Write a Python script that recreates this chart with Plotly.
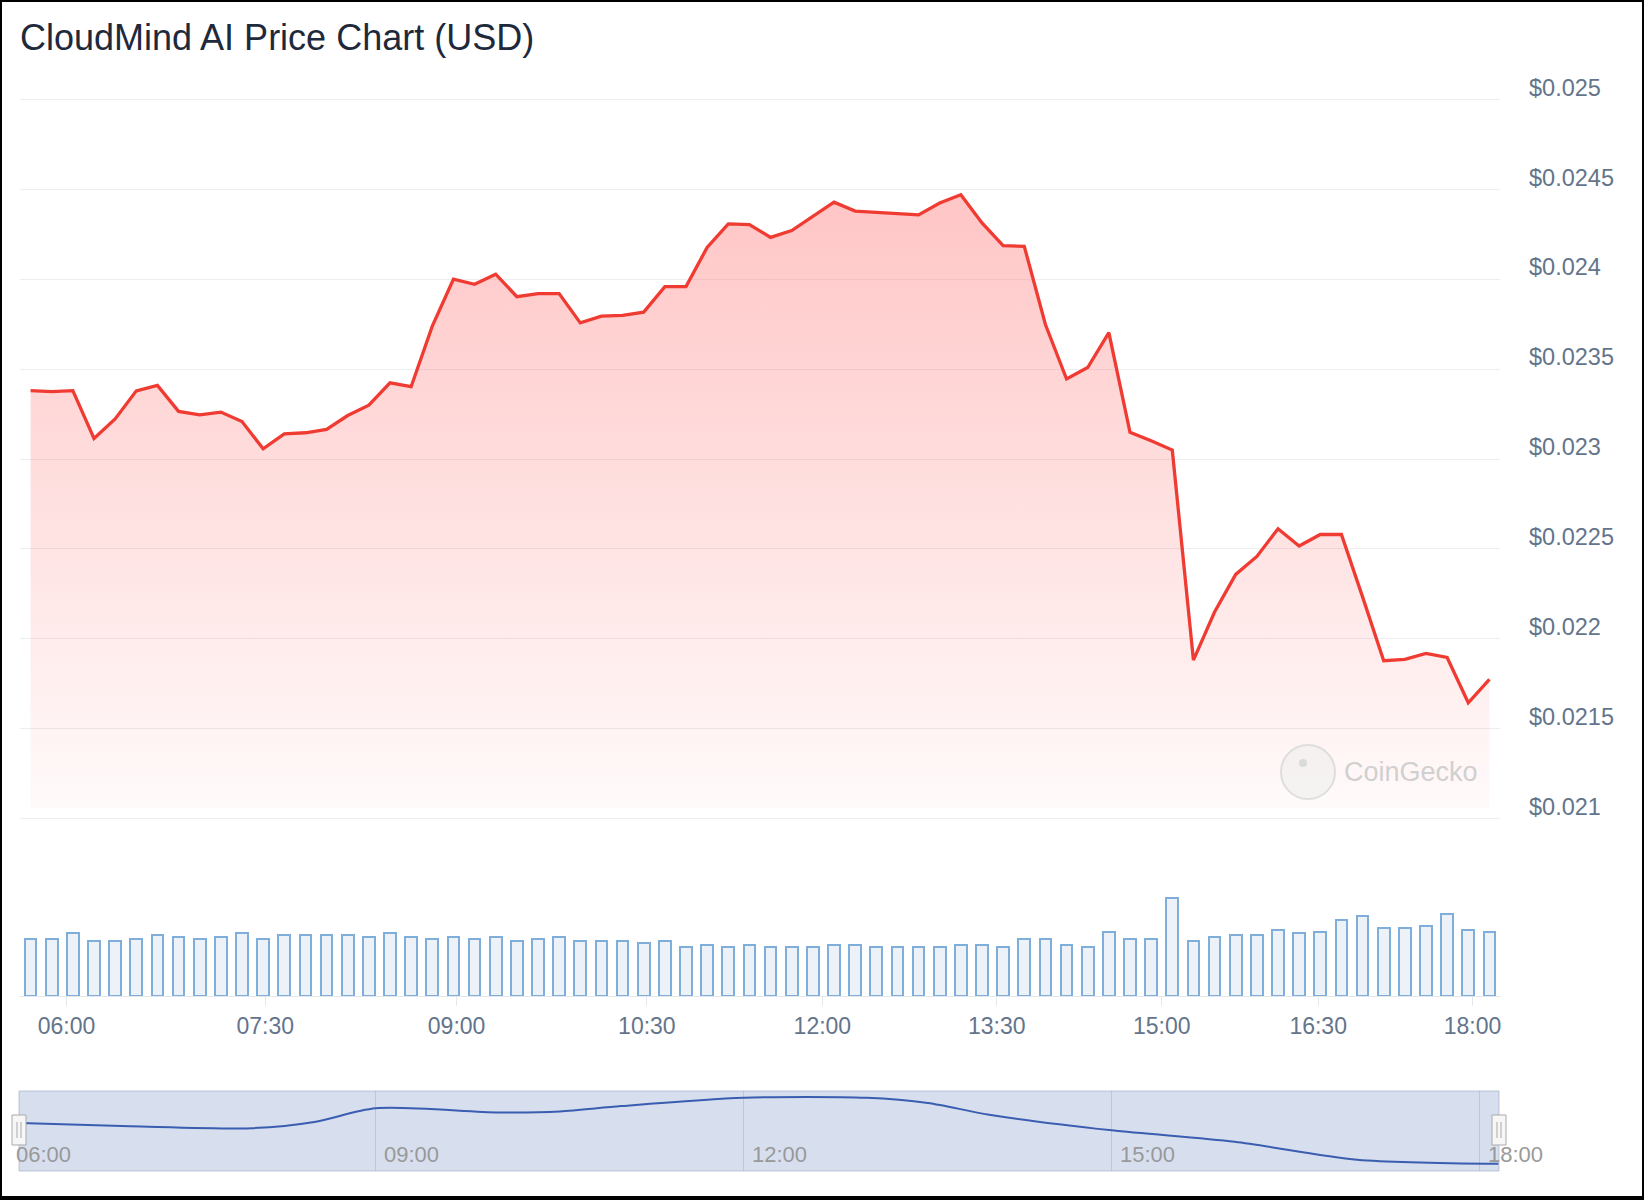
import plotly.graph_objects as go

# ---------------- data ----------------
title_text = "CloudMind AI Price Chart (USD)"

price = [
    0.023380, 0.023375, 0.023380, 0.023114, 0.023223, 0.023379, 0.023409, 0.023265, 0.023246, 0.023261,
    0.023208, 0.023057, 0.023140, 0.023146, 0.023165, 0.023242, 0.023299, 0.023424, 0.023402, 0.023739,
    0.024000, 0.023972, 0.024028, 0.023903, 0.023920, 0.023920, 0.023757, 0.023795, 0.023799, 0.023817,
    0.023959, 0.023959, 0.024177, 0.024308, 0.024304, 0.024233, 0.024271, 0.024351, 0.024429, 0.024379,
    0.024373, 0.024368, 0.024358, 0.024424, 0.024470, 0.024313, 0.024187, 0.024183, 0.023748, 0.023445,
    0.023509, 0.023703, 0.023148, 0.023102, 0.023050, 0.021881, 0.022149, 0.022358, 0.022458, 0.022612,
    0.022516, 0.022580, 0.022580, 0.022233, 0.021878, 0.021885, 0.021918, 0.021896, 0.021644, 0.021774,
]

volume = [
    172, 172, 190, 166, 166, 172, 184, 178, 172, 178,
    190, 172, 184, 184, 184, 184, 178, 190, 178, 172,
    178, 172, 178, 166, 172, 178, 166, 166, 166, 160,
    166, 148, 154, 148, 154, 148, 148, 148, 154, 154,
    148, 148, 148, 148, 154, 154, 148, 172, 172, 154,
    148, 196, 172, 172, 298, 166, 178, 184, 184, 202,
    190, 196, 232, 244, 208, 208, 214, 250, 202, 196,
]

# ordinal axis: time labels sit between sample positions
x_tick_pos = [1.7, 11.1, 20.15, 29.15, 37.45, 45.7, 53.5, 60.9, 68.2]
x_tick_labels = ["06:00", "07:30", "09:00", "10:30", "12:00", "13:30", "15:00", "16:30", "18:00"]

y_tick_vals = [0.021, 0.0215, 0.022, 0.0225, 0.023, 0.0235, 0.024, 0.0245, 0.025]
y_tick_labels = ["$0.021", "$0.0215", "$0.022", "$0.0225", "$0.023", "$0.0235", "$0.024", "$0.0245", "$0.025"]

# navigator (grouped, time-linear)
nav_hours = [6.1, 7.0, 8.0, 8.5, 9.0, 10.0, 10.5, 11.0, 12.0, 13.0, 13.5, 14.0, 15.0, 16.0, 17.0, 18.15]
nav_price = [0.02334, 0.02321, 0.02313, 0.02338, 0.02394, 0.02377, 0.02381, 0.02403,
             0.02437, 0.02437, 0.02416, 0.02368, 0.02304, 0.02257, 0.02184, 0.02167]
nav_tick_hours = [6, 9, 12, 15, 18]
nav_tick_labels = ["06:00", "09:00", "12:00", "15:00", "18:00"]

# ---------------- layout helpers ----------------
W, H = 1644, 1200
FONT = "Liberation Sans, Arial, Helvetica, sans-serif"
FILL_FLOOR = 0.02106


def px(x):
    return x / W


def py(y):
    return 1 - y / H


idx = list(range(len(price)))

fig = go.Figure()

# baseline for the gradient area
fig.add_trace(go.Scatter(x=idx, y=[FILL_FLOOR] * len(idx), mode="lines", line=dict(width=0),
                         hoverinfo="skip", showlegend=False, xaxis="x", yaxis="y"))
fig.add_trace(go.Scatter(
    x=idx, y=price, mode="lines", showlegend=False, xaxis="x", yaxis="y",
    line=dict(color="#f03b33", width=3.3),
    fill="tonexty",
    fillgradient=dict(type="vertical",
                      colorscale=[[0, "rgba(255,95,95,0.03)"], [1, "rgba(255,95,95,0.36)"]],
                      start=FILL_FLOOR, stop=max(price)),
))

fig.add_trace(go.Bar(
    x=idx, y=volume, width=0.56, showlegend=False, xaxis="x2", yaxis="y2",
    marker=dict(color="#edf2f8", line=dict(color="#7eaed9", width=2)),
))

fig.add_trace(go.Scatter(
    x=nav_hours, y=nav_price, mode="lines", showlegend=False, xaxis="x3", yaxis="y3",
    line=dict(color="#3a5db0", width=2, shape="spline", smoothing=0.8),
))

x_dom = [px(20), px(1500)]
grid_c = "#eceef2"
label_c = "#64748b"

fig.update_layout(
    width=W, height=H,
    margin=dict(l=0, r=0, t=0, b=0, autoexpand=False),
    paper_bgcolor="white", plot_bgcolor="rgba(0,0,0,0)",
    font=dict(family=FONT),
    bargap=0,
    title=dict(text=title_text, x=px(20), xanchor="left", xref="paper",
               y=py(37), yanchor="middle", yref="paper", automargin=False,
               font=dict(size=36, color="#1e293b", family=FONT)),
    xaxis=dict(domain=x_dom, range=[-0.5, 69.5], anchor="y", showgrid=False, automargin=False,
               showticklabels=False, zeroline=False, showline=False, fixedrange=True),
    yaxis=dict(domain=[py(823.5), py(94.5)], range=[0.02097218, 0.02502782], anchor="x", side="right",
               tickvals=y_tick_vals, ticktext=y_tick_labels, showgrid=True, gridcolor=grid_c,
               gridwidth=1, zeroline=False, ticks="", ticklabelposition="outside", automargin=False,
               ticklabelshift=-12, ticklabelstandoff=28,
               tickfont=dict(size=23.5, color=label_c, family=FONT)),
    xaxis2=dict(domain=x_dom, range=[-0.5, 69.5], anchor="y2", showgrid=False, zeroline=False,
                tickvals=x_tick_pos, ticktext=x_tick_labels, ticks="outside", ticklen=9,
                tickcolor="#e3e8ef", tickwidth=1, showline=True, linecolor="#e3e8ef", linewidth=1,
                automargin=False, tickfont=dict(size=23, color=label_c, family=FONT)),
    yaxis2=dict(domain=[py(996), py(880)], range=[0, 352.6], anchor="x2", visible=False, automargin=False),
    xaxis3=dict(domain=[px(7), px(1499)], range=[5.995, 18.155], anchor="y3", showgrid=True,
                gridcolor="rgba(140,152,180,0.35)", gridwidth=1, tickvals=nav_tick_hours, automargin=False,
                showticklabels=False, ticks="", zeroline=False, showline=False),
    yaxis3=dict(domain=[py(1171), py(1091)], range=[0.021377, 0.024648], anchor="x3", visible=False,
                automargin=False),
)

# navigator labels
for h, t in zip(nav_tick_hours, nav_tick_labels):
    fig.add_annotation(x=h, y=py(1154), xref="x3", yref="paper", text=t, showarrow=False,
                       xanchor="left", yanchor="middle", xshift=6,
                       font=dict(size=22, color="#999999", family=FONT))

# watermark text
fig.add_annotation(x=px(1342), y=py(772), xref="paper", yref="paper", text="CoinGecko",
                   showarrow=False, xanchor="left", yanchor="middle",
                   font=dict(size=27, color="#d0d0d0", family=FONT))

shapes = []
# navigator mask/box
shapes.append(dict(type="rect", xref="paper", yref="paper", x0=px(19), x1=px(1499),
                   y0=py(1171), y1=py(1091), fillcolor="rgba(102,133,194,0.26)",
                   line=dict(color="rgba(150,163,190,0.55)", width=1), layer="below"))
# handles
for cx in (19, 1499):
    shapes.append(dict(type="rect", xref="paper", yref="paper", x0=px(cx - 7), x1=px(cx + 7),
                       y0=py(1145), y1=py(1115), fillcolor="#f7f7f7",
                       line=dict(color="#a9a9a9", width=1), layer="above"))
    for dx in (-2, 2):
        shapes.append(dict(type="line", xref="paper", yref="paper", x0=px(cx + dx), x1=px(cx + dx),
                           y0=py(1138), y1=py(1122), line=dict(color="#a9a9a9", width=1), layer="above"))
# watermark logo
shapes.append(dict(type="circle", xref="paper", yref="paper", x0=px(1281), x1=px(1335),
                   y0=py(799), y1=py(745), fillcolor="rgba(236,236,236,0.55)",
                   line=dict(color="rgba(220,220,220,0.9)", width=2), layer="above"))
shapes.append(dict(type="circle", xref="paper", yref="paper", x0=px(1299), x1=px(1307),
                   y0=py(767), y1=py(759), fillcolor="rgba(212,212,212,0.8)",
                   line=dict(width=0), layer="above"))
# frame
shapes.append(dict(type="rect", xref="paper", yref="paper", x0=0, x1=1, y0=0, y1=1,
                   line=dict(color="black", width=4), fillcolor="rgba(0,0,0,0)", layer="above"))
shapes.append(dict(type="rect", xref="paper", yref="paper", x0=0, x1=1, y0=0, y1=py(1196),
                   line=dict(width=0), fillcolor="black", layer="above"))
fig.update_layout(shapes=shapes)

fig.write_html("out.html")
